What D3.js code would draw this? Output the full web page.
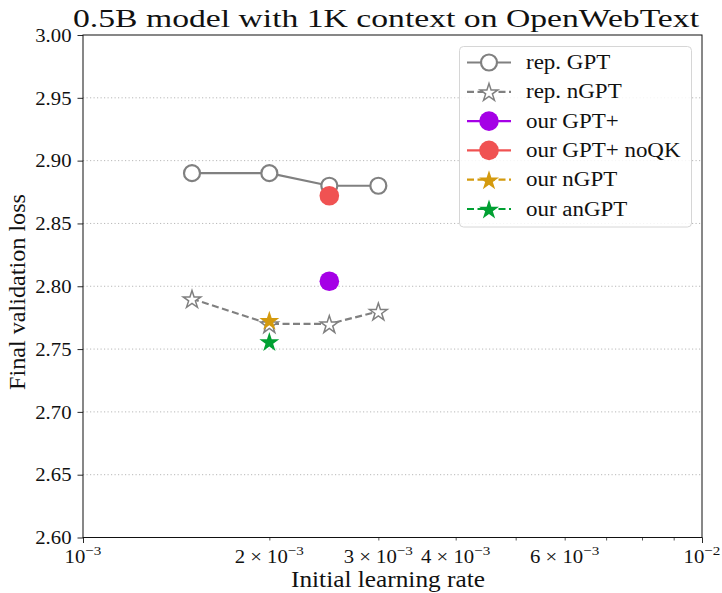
<!DOCTYPE html>
<html>
<head>
<meta charset="utf-8">
<script src="https://cdn.jsdelivr.net/npm/d3@7"></script>
<style>
  body { margin: 0; background: #fff; }
  svg text { font-family: "Liberation Serif", "DejaVu Serif", serif; fill: #111; }
</style>
</head>
<body>
<svg id="chart" width="722" height="593"></svg>
<script>
// Learning rates swept for the reported runs
const lrs = [1.5e-3, 2e-3, 2.5e-3, 3e-3];
const repGPT = [2.89, 2.89, 2.88, 2.88];
const repNGPT = [2.79, 2.77, 2.77, 2.78];
// Single runs
const ourGPTplus = [{ lr: 2.5e-3, loss: 2.804 }];
const ourGPTplusNoQK = [{ lr: 2.5e-3, loss: 2.872 }];
const ourNGPT = [{ lr: 2e-3, loss: 2.773 }];
const ourANGPT = [{ lr: 2e-3, loss: 2.756 }];

const yTicks = [2.60, 2.65, 2.70, 2.75, 2.80, 2.85, 2.90, 2.95, 3.00];
const xMajor = [1e-3, 1e-2];
const xMinor = [2e-3, 3e-3, 4e-3, 5e-3, 6e-3, 7e-3, 8e-3, 9e-3];
const xMinorLabels = { 2: "2", 3: "3", 4: "4", 6: "6" };

const legendItems = [
  { label: "rep. GPT", color: "#808080", marker: "circle", open: true, dash: null },
  { label: "rep. nGPT", color: "#808080", marker: "star", open: true, dash: "7,3.5" },
  { label: "our GPT+", color: "#a500e6", marker: "circle", open: false, dash: null },
  { label: "our GPT+ noQK", color: "#f05252", marker: "circle", open: false, dash: null },
  { label: "our nGPT", color: "#d49a0e", marker: "star", open: false, dash: "7,3.5" },
  { label: "our anGPT", color: "#00a032", marker: "star", open: false, dash: "7,3.5" }
];

const svg = d3.select("#chart");
const L = 83, R = 702, T = 35, B = 537.5;
const WIDEN = 1.12; // widen the serif face a little for a rounder, book-like look

function widen(sel, target) {
  sel.each(function () {
    const w = this.getComputedTextLength();
    d3.select(this).attr("textLength", target || w * WIDEN).attr("lengthAdjust", "spacingAndGlyphs");
  });
}

const x = d3.scaleLog().domain([1e-3, 1e-2]).range([L, R]);
const y = d3.scaleLinear().domain([2.60, 3.00]).range([B, T]);

// Horizontal dotted grid
svg.append("g").selectAll("line")
  .data(yTicks.slice(1, -1))
  .join("line")
  .attr("x1", L).attr("x2", R)
  .attr("y1", d => y(d)).attr("y2", d => y(d))
  .attr("stroke", "#b8b8b8").attr("stroke-width", 1)
  .attr("stroke-dasharray", "1.2,2.3");

// Y axis
const yAxis = svg.append("g").attr("transform", `translate(${L},0)`)
  .call(d3.axisLeft(y).tickValues(yTicks).tickFormat(d3.format(".2f")).tickSize(5.5).tickPadding(6));
yAxis.select(".domain").remove();
yAxis.selectAll("text").attr("font-size", 18.5).attr("font-family", "Liberation Serif").attr("fill", "#111")
  .attr("dy", "0.34em");
yAxis.selectAll("line").attr("stroke", "#111").attr("stroke-width", 0.9);
widen(yAxis.selectAll("text"));

// X axis: major ticks
const xAxisMaj = svg.append("g").attr("transform", `translate(0,${B})`)
  .call(d3.axisBottom(x).tickValues(xMajor).tickSize(5.5).tickFormat(() => ""));
xAxisMaj.select(".domain").remove();
xAxisMaj.selectAll("line").attr("stroke", "#111").attr("stroke-width", 0.9);

// X axis: minor ticks
const xAxisMin = svg.append("g").attr("transform", `translate(0,${B})`)
  .call(d3.axisBottom(x).tickValues(xMinor).tickSize(3).tickFormat(() => ""));
xAxisMin.select(".domain").remove();
xAxisMin.selectAll("line").attr("stroke", "#111").attr("stroke-width", 0.7);

// X tick labels with superscript exponents
const labG = svg.append("g");
function expLabel(v, mant, e) {
  const t = labG.append("text").attr("x", x(v)).attr("y", B + 25)
    .attr("text-anchor", "middle").attr("font-size", 18.5);
  t.append("tspan").text(mant ? mant + " \u00d7 10" : "10");
  t.append("tspan").attr("dy", -8).attr("font-size", 13.5).text("\u2212" + e);
  widen(t);
}
xMajor.forEach(v => expLabel(v, null, Math.abs(Math.round(Math.log10(v)))));
xMinor.forEach(v => {
  const m = Math.round(v * 1000);
  if (xMinorLabels[m]) expLabel(v, xMinorLabels[m], 3);
});

// Frame
svg.append("rect").attr("x", L).attr("y", T).attr("width", R - L).attr("height", B - T)
  .attr("fill", "none").attr("stroke", "#111").attr("stroke-width", 1);

// Marker drawing helper
const starPath = r => d3.symbol(d3.symbolStar, r * r / 0.8908130915292852)();
function drawMarker(g, cx, cy, item) {
  if (item.marker === "circle") {
    if (item.open) {
      g.append("circle").attr("cx", cx).attr("cy", cy).attr("r", 8)
        .attr("fill", "#fff").attr("stroke", item.color).attr("stroke-width", 2.2);
    } else {
      g.append("circle").attr("cx", cx).attr("cy", cy).attr("r", 9.8)
        .attr("fill", item.color);
    }
  } else {
    if (item.open) {
      g.append("path").attr("d", starPath(9.3)).attr("transform", `translate(${cx},${cy + 1})`)
        .attr("fill", "#fff").attr("stroke", item.color).attr("stroke-width", 1.5);
    } else {
      g.append("path").attr("d", starPath(10.5)).attr("transform", `translate(${cx},${cy + 1})`)
        .attr("fill", item.color);
    }
  }
}

const plot = svg.append("g");
const line = d3.line().x(d => x(d[0])).y(d => y(d[1]));

// Reported GPT
plot.append("path").datum(d3.zip(lrs, repGPT)).attr("d", line)
  .attr("fill", "none").attr("stroke", legendItems[0].color).attr("stroke-width", 2.2);
d3.zip(lrs, repGPT).forEach(p => drawMarker(plot, x(p[0]), y(p[1]), legendItems[0]));

// Reported nGPT
plot.append("path").datum(d3.zip(lrs, repNGPT)).attr("d", line)
  .attr("fill", "none").attr("stroke", legendItems[1].color).attr("stroke-width", 2.2)
  .attr("stroke-dasharray", "7,3.5");
d3.zip(lrs, repNGPT).forEach(p => drawMarker(plot, x(p[0]), y(p[1]), legendItems[1]));

// Our runs
[[ourGPTplus, 2], [ourGPTplusNoQK, 3], [ourNGPT, 4], [ourANGPT, 5]].forEach(([data, i]) => {
  data.forEach(d => drawMarker(plot, x(d.lr), y(d.loss), legendItems[i]));
});

// Legend
const lg = svg.append("g");
lg.append("rect").attr("x", 459.5).attr("y", 46.5).attr("width", 232).attr("height", 180.5)
  .attr("rx", 4).attr("fill", "#fff").attr("fill-opacity", 0.85)
  .attr("stroke", "#d6d6d6").attr("stroke-width", 1);
legendItems.forEach((it, i) => {
  const cy = 62.5 + i * 29.3;
  lg.append("line").attr("x1", 467).attr("x2", 511).attr("y1", cy).attr("y2", cy)
    .attr("stroke", it.color).attr("stroke-width", 2.2)
    .attr("stroke-dasharray", it.dash);
  drawMarker(lg, 489, cy, it);
  const t = lg.append("text").attr("x", 526).attr("y", cy + 6.5).attr("font-size", 20.5).text(it.label);
  widen(t);
});

// Title and axis labels
const title = svg.append("text").attr("x", 386).attr("y", 27).attr("text-anchor", "middle")
  .attr("font-size", 25.5).text("0.5B model with 1K context on OpenWebText");
widen(title, 626);
const xl = svg.append("text").attr("x", 388).attr("y", 587).attr("text-anchor", "middle")
  .attr("font-size", 23).text("Initial learning rate");
widen(xl, 194);
const yl = svg.append("text").attr("transform", "translate(25,292) rotate(-90)").attr("text-anchor", "middle")
  .attr("font-size", 23).text("Final validation loss");
widen(yl, 196);
</script>
</body>
</html>
